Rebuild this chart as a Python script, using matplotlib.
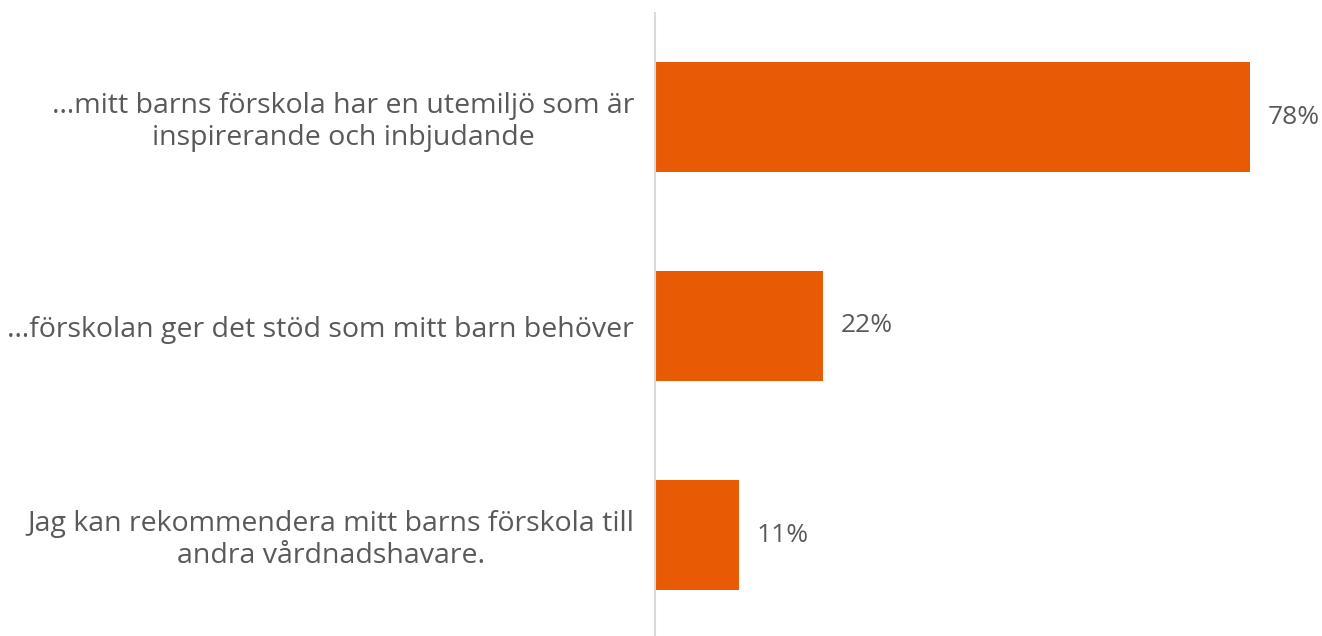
import matplotlib
matplotlib.use("Agg")
import matplotlib.pyplot as plt

# data
categories = [
    "…mitt barns förskola har en utemiljö som är\ninspirerande och inbjudande",
    "…förskolan ger det stöd som mitt barn behöver",
    "Jag kan rekommendera mitt barns förskola till\nandra vårdnadshavare.",
]
values = [78, 22, 11]
value_labels = ["78%", "22%", "11%"]

bar_color = "#E85A04"
text_color = "#595959"

plt.rcParams['font.family'] = ['Open Sans', 'DejaVu Sans']

fig = plt.figure(figsize=(13.22, 6.36), dpi=100)
ax = fig.add_axes([655 / 1322, 1 - 639.5 / 636, 1 - 655 / 1322, 627 / 636])

ypos = list(range(len(categories)))
ax.barh(ypos, values, height=0.53, color=bar_color)
ax.set_ylim(2.5, -0.5)
ax.set_xlim(0, 87.4)

for y, v, lab in zip(ypos, values, value_labels):
    ax.text(v + 2.3, y, lab, va='center', ha='left', fontsize=19, color=text_color)

ax.set_yticks(ypos)
ax.set_yticklabels(categories, fontsize=20.5, color=text_color,
                   multialignment='center', linespacing=1.15)
ax.tick_params(axis='y', length=0, pad=15)
ax.set_xticks([])

for s in ['top', 'right', 'bottom']:
    ax.spines[s].set_visible(False)
ax.spines['left'].set_color('#D9D9D9')
ax.spines['left'].set_linewidth(1.5)

fig.savefig("out.png", dpi=100)
